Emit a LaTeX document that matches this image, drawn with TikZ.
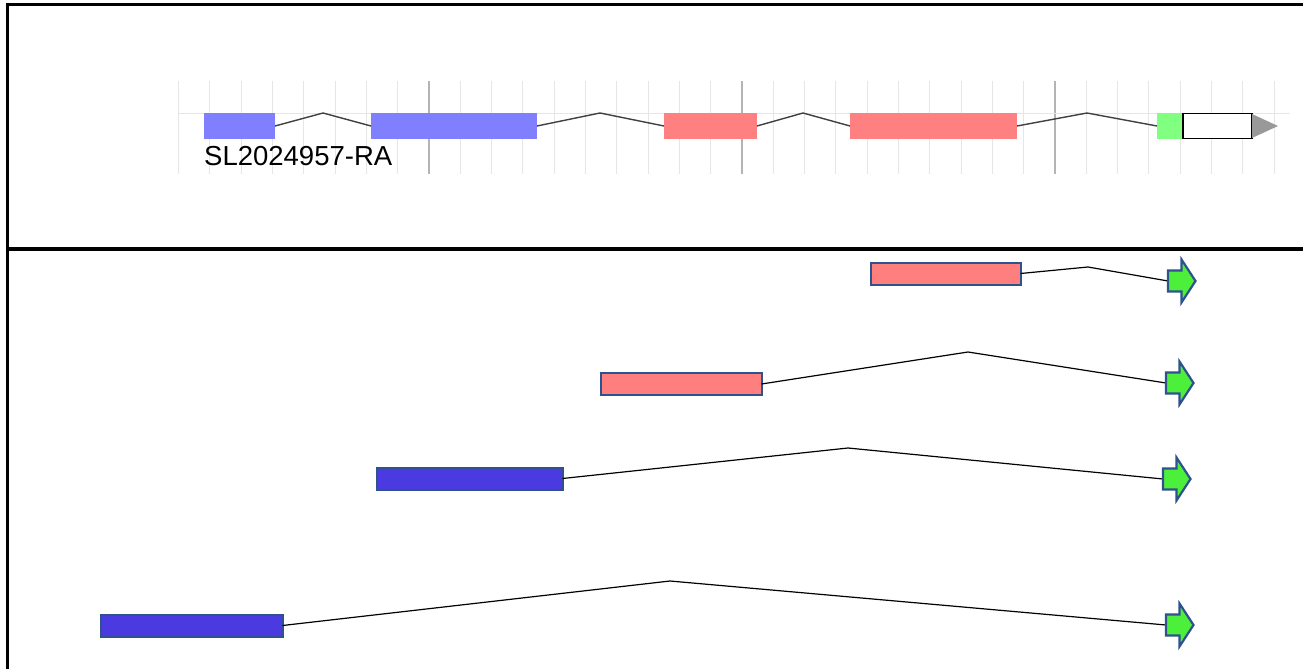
\documentclass[tikz,border=0pt]{standalone}
\usepackage{fontspec}
\setmainfont{Liberation Sans}
\definecolor{tblue}{HTML}{8080FF}
\definecolor{tred}{HTML}{FF8080}
\definecolor{tgreen}{HTML}{80FF80}
\definecolor{bblue}{HTML}{4A3AE0}
\definecolor{bred}{HTML}{FF7F7F}
\definecolor{agreen}{HTML}{4CEF3A}
\definecolor{edge}{HTML}{2F528F}
\definecolor{gridlight}{HTML}{E6E6E6}
\definecolor{griddark}{HTML}{B4B4B4}
\begin{document}
\begin{tikzpicture}[x=1pt,y=-1pt,
  texon/.style={inner sep=0pt, outer sep=0pt, minimum height=26pt},
  bexon/.style={draw=edge, line width=2pt, inner sep=0pt, outer sep=0pt, minimum height=22pt},
  tintron/.style={draw={rgb,255:red,64;green,64;blue,64}, line width=1.4pt},
  bintron/.style={draw=black, line width=1.2pt},
  garrow/.pic={\filldraw[fill=agreen, draw=edge, line width=2.2pt, line join=miter]
     (0,-10.5) -- (13.5,-10.5) -- (13.5,-21.5) -- (27.5,0) -- (13.5,21.5) -- (13.5,10.5) -- (0,10.5) -- cycle;},
  frame/.style={draw=black, line width=3pt}
]
\useasboundingbox (0,0) rectangle (1303,669);
% grid
\foreach \k in {0,...,35}{
  \draw[gridlight, line width=1pt] ({429+(\k-8)*31.3},81) -- ({429+(\k-8)*31.3},174);
}
\foreach \k in {8,18,28}{
  \draw[griddark, line width=1.3pt] ({429+(\k-8)*31.3},81) -- ({429+(\k-8)*31.3},174);
}
\draw[gridlight, line width=1pt] (178,113) -- (1290,113);
% top track
\node[texon, fill=tblue, minimum width=71pt] (e1) at (239.5,126) {};
\node[texon, fill=tblue, minimum width=166pt] (e2) at (454,126) {};
\node[texon, fill=tred, minimum width=93pt] (e3) at (710.5,126) {};
\node[texon, fill=tred, minimum width=167pt] (e4) at (933.5,126) {};
\node[texon, fill=tgreen, minimum width=26pt] (e5) at (1170,126) {};
\node[texon, draw=black, fill=white, line width=1.5pt, minimum width=69pt, minimum height=25pt] (e6) at (1217.5,126) {};
\fill[gray!80] (e6.east) ++(0,-12) -- ++(26,12) -- ++(-26,12) -- cycle;
\coordinate (t1) at (323,113);
\coordinate (t2) at (600,113);
\coordinate (t3) at (803,113);
\coordinate (t4) at (1087,113);
\draw[tintron] (e1.east) -- (t1) -- (e2.west);
\draw[tintron] (e2.east) -- (t2) -- (e3.west);
\draw[tintron] (e3.east) -- (t3) -- (e4.west);
\draw[tintron] (e4.east) -- (t4) -- (e5.west);
\node[anchor=base west, inner sep=0pt, font=\fontsize{27.5}{30}\selectfont] (lbl) at (204,165) {SL2024957-RA};
% frame
\draw[frame, line join=miter] (1303,4.5) -- (7.5,4.5) -- (7.5,669);
\draw[draw=black, line width=3.5pt] (7.5,249) -- (1303,249);
% lower rows
\node[bexon, fill=bred, minimum width=150pt, minimum height=22pt] (r1) at (945.5,273.5) {};
\node[bexon, fill=bred, minimum width=161pt] (r2) at (681,384) {};
\node[bexon, fill=bblue, minimum width=186pt] (b3) at (469.5,478.5) {};
\node[bexon, fill=bblue, minimum width=182pt] (b4) at (191.5,625.5) {};
\coordinate (p1) at (1088,267);
\coordinate (p2) at (968,352);
\coordinate (p3) at (848,448);
\coordinate (p4) at (670,581);
\coordinate (a1) at (1168,281);
\coordinate (a2) at (1166,383);
\coordinate (a3) at (1163,479);
\coordinate (a4) at (1166,625);
\draw[bintron] (r1.east) -- (p1) -- (a1);
\draw[bintron] (r2.east) -- (p2) -- (a2);
\draw[bintron] (b3.east) -- (p3) -- (a3);
\draw[bintron] (b4.east) -- (p4) -- (a4);
\pic at (a1) {garrow};
\pic at (a2) {garrow};
\pic at (a3) {garrow};
\pic at (a4) {garrow};
\end{tikzpicture}
\end{document}
